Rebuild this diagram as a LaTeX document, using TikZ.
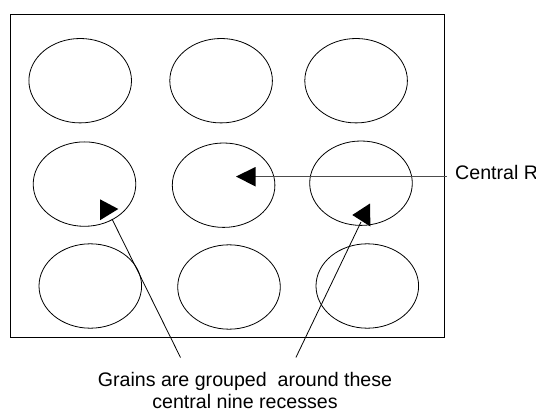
\documentclass[tikz,border=0pt]{standalone}
\usepackage{fontspec}
\setmainfont{Liberation Sans}
\begin{document}
\begin{tikzpicture}[x=1pt,y=-1pt,
  recess/.style={draw=black,line width=0.8pt},
  leader/.style={draw=black,line width=0.8pt},
  pointer/.style={fill=black},
  label/.style={font=\fontsize{19.6}{22}\selectfont,inner sep=0pt}]
\useasboundingbox (0,0) rectangle (536,412);

% tray outline
\draw[line width=0.9pt] (10.7,14) rectangle (444.5,337.5);

% the nine recesses (row by row)
\foreach \name/\cx/\cy in {r11/80.2/80.7, r12/221.1/80.7, r13/356.1/80.7,
                           r21/84.5/184.1, r22/223.6/185.2, r23/361.0/183.2,
                           r31/90.3/286.0, r32/229.0/287.0, r33/367.3/286.0}
  \draw[recess] (\cx,\cy) ellipse [x radius=51.3, y radius=42.2];

% labels (the bottom label is placed by the baseline of its last line)
\node[label,anchor=base west] (central) at (455,179) {Central R};
\node[label,anchor=base,align=center] (grains) at (245,408)
  {Grains are grouped\ \ around these\\central nine recesses};

% pointer to the central recess
\coordinate (cstart) at (446.5,176.3);
\coordinate (cbase) at (255,176.3);
\draw[draw=black!70,line width=0.8pt] (cstart) -- (cbase);
\fill[pointer] (236,176.5) -- (255.5,167) -- (255.5,186.5) -- cycle;

% pointers from the bottom label
\coordinate (lfoot) at (180.5,357.5);
\coordinate (lhead) at (112,219);
\draw[leader] (lfoot) -- (lhead);
\fill[pointer] (100.2,199.4) -- (100.2,220.1) -- (118.3,209) -- cycle;

\coordinate (rfoot) at (295.9,357.5);
\coordinate (rhead) at (361,222);
\draw[leader] (rfoot) -- (rhead);
\fill[pointer] (352.3,215) -- (370,203.5) -- (370.4,226.5) -- cycle;
\end{tikzpicture}
\end{document}
